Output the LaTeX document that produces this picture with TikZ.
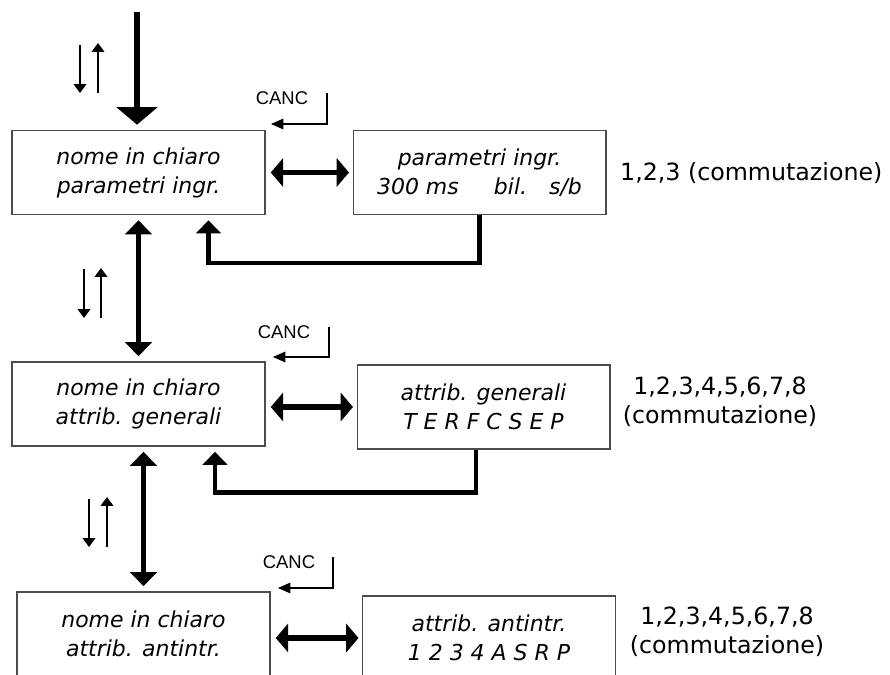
\documentclass[tikz,border=0pt]{standalone}
\usepackage{fontspec}
\setmainfont{DejaVu Sans}
\newfontfamily\cancfont{Liberation Sans}
\usetikzlibrary{arrows.meta}

\begin{document}
\begin{tikzpicture}[
    x=0.02cm, y=-0.02cm,
    display/.style={shape=rectangle, draw=black!70, line width=0.6pt, minimum width=5.06cm, minimum height=1.68cm, align=center, font=\fontsize{12.5}{16.5}\selectfont\itshape},
    choices/.style={align=center, font=\fontsize{13.5}{16.5}\selectfont},
    canc/.style={font=\cancfont\fontsize{10.5}{12}\selectfont},
    enter/.style={line width=3.2pt, -{Triangle[length=10pt,width=23pt]}, shorten >=3pt},
    updown/.style={line width=3pt, {Triangle[length=8pt,width=15pt]}-{Triangle[length=8pt,width=15pt]}, shorten >=3pt, shorten <=3pt},
    swap/.style={line width=3.2pt, {Triangle[length=7pt,width=16pt]}-{Triangle[length=7pt,width=16pt]}, shorten >=2pt, shorten <=3pt},
    back/.style={line width=2.6pt, -{Triangle[length=7.5pt,width=14pt]}, shorten >=3pt},
    hint/.style={line width=1.2pt, -{Triangle[length=5pt,width=7pt]}},
    cancel/.style={line width=0.6pt, -{Triangle[length=7pt,width=6pt]}},
  ]
    \useasboundingbox (0,0) rectangle (890,675);
    \clip (0,0) rectangle (890,675);

    \node[display] (name1) at (138.5,172.5) {nome in chiaro\\parametri ingr.};
    \node[display] (param) at (479.5,172.5) {parametri ingr.\\300 ms\hspace{1.6em}bil.\hspace{1em}s/b};
    \node[choices, anchor=west] (comm1) at (614,173) {1,2,3 (commutazione)};

    \node[display] (name2) at (138.5,404) {nome in chiaro\\attrib. generali};
    \node[display] (gen) at (483.5,407) {attrib. generali\\T E R F C S E P};
    \node[choices] (comm2) at (720,402) {1,2,3,4,5,6,7,8\\(commutazione)};

    \node[display] (name3) at (143.5,634) {nome in chiaro\\attrib. antintr.};
    \node[display] (anti) at (489,638) {attrib. antintr.\\1 2 3 4 A S R P};
    \node[choices] (comm3) at (727,632) {1,2,3,4,5,6,7,8\\(commutazione)};

    \coordinate (entry) at (137,12);
    \draw[enter] (entry) -- (entry |- name1.north);
    \draw[updown] (name1) -- (name2);
    \draw[updown] (name2.south -| name3) -- (name3);

    \draw[swap] (name1) -- (param);
    \draw[swap] (name2.east |- gen) -- (gen);
    \draw[swap] (name3.east |- anti) -- (anti);

    \draw[back] (param.south) -- ++(0,48) -| ([xshift=1.4cm]name1.south);
    \draw[back] ([xshift=-0.15cm]gen.south) -- ++(0,43) -| ([xshift=1.53cm]name2.south);

    \node[canc] (canc1) at (282,98) {CANC};
    \coordinate (c1) at (327,93);
    \coordinate (t1) at (271,124);
    \draw[cancel] (c1) |- (t1);

    \node[canc] (canc2) at (284,332) {CANC};
    \coordinate (c2) at (329,327);
    \coordinate (t2) at (273,357);
    \draw[cancel] (c2) |- (t2);

    \node[canc] (canc3) at (289,562) {CANC};
    \coordinate (c3) at (333,557);
    \coordinate (t3) at (278,588);
    \draw[cancel] (c3) |- (t3);

    \draw[hint] (80,45) -- (80,93);
    \draw[hint] (98,93) -- (98,43);
    \draw[hint] (84,269) -- (84,318);
    \draw[hint] (101,318) -- (101,268);
    \draw[hint] (89,499) -- (89,547);
    \draw[hint] (107,547) -- (107,497);

  \end{tikzpicture}
\end{document}
